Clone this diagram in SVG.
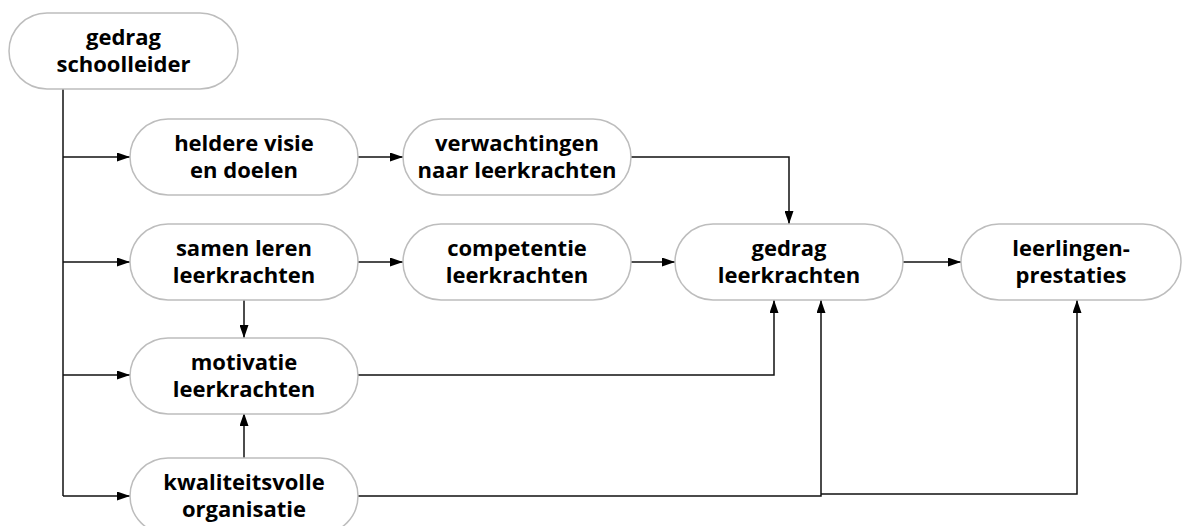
<svg xmlns="http://www.w3.org/2000/svg" width="1185" height="526" viewBox="0 0 1185 526">
<defs>
<marker id="ah" markerWidth="13" markerHeight="9" refX="13" refY="4.5" orient="auto" markerUnits="userSpaceOnUse">
<path d="M0,0 L13,4.5 L0,9 Z" fill="#000"/>
</marker>
<style>
.node rect{fill:#fff;stroke:#bdbdbd;stroke-width:1.5}
.node text{font-family:"Open Sans","Noto Sans","Liberation Sans",sans-serif;font-weight:bold;font-size:22px;fill:#000;text-anchor:middle}
.conn path{fill:none;stroke:#111;stroke-width:1.5}
</style>
</defs>
<rect width="1185" height="526" fill="#fff"/>
<g class="conn">
<path d="M63,89 V496"/>
<path d="M63,157 H130" marker-end="url(#ah)"/>
<path d="M63,262 H130" marker-end="url(#ah)"/>
<path d="M63,375 H130" marker-end="url(#ah)"/>
<path d="M63,496 H130" marker-end="url(#ah)"/>
<path d="M358,157 H403" marker-end="url(#ah)"/>
<path d="M631,157 H789 V224" marker-end="url(#ah)"/>
<path d="M358,262 H403" marker-end="url(#ah)"/>
<path d="M631,262 H675" marker-end="url(#ah)"/>
<path d="M903,262 H961" marker-end="url(#ah)"/>
<path d="M244,300 V338" marker-end="url(#ah)"/>
<path d="M244,458 V413" marker-end="url(#ah)"/>
<path d="M358,375 H774 V300" marker-end="url(#ah)"/>
<path d="M358,496 H821 V300" marker-end="url(#ah)"/>
<path d="M821,494 H1077 V300" marker-end="url(#ah)"/>
</g>
<g id="n-schoolleider" class="node"><rect x="9" y="13" width="229" height="76" rx="38"/><text x="123.5" y="45">gedrag</text><text x="123.5" y="72">schoolleider</text></g>
<g id="n-visie" class="node"><rect x="130" y="119" width="228" height="76" rx="38"/><text x="244" y="151">heldere visie</text><text x="244" y="178">en doelen</text></g>
<g id="n-verwachtingen" class="node"><rect x="403" y="119" width="228" height="76" rx="38"/><text x="517" y="151">verwachtingen</text><text x="517" y="178">naar leerkrachten</text></g>
<g id="n-samen" class="node"><rect x="130" y="224" width="228" height="76" rx="38"/><text x="244" y="256">samen leren</text><text x="244" y="283">leerkrachten</text></g>
<g id="n-competentie" class="node"><rect x="403" y="224" width="228" height="76" rx="38"/><text x="517" y="256">competentie</text><text x="517" y="283">leerkrachten</text></g>
<g id="n-gedrag" class="node"><rect x="675" y="224" width="228" height="76" rx="38"/><text x="789" y="256">gedrag</text><text x="789" y="283">leerkrachten</text></g>
<g id="n-prestaties" class="node"><rect x="961" y="224" width="220" height="76" rx="38"/><text x="1071" y="256">leerlingen-</text><text x="1071" y="283">prestaties</text></g>
<g id="n-motivatie" class="node"><rect x="130" y="338" width="228" height="76" rx="38"/><text x="244" y="370">motivatie</text><text x="244" y="397">leerkrachten</text></g>
<g id="n-organisatie" class="node"><rect x="130" y="458" width="228" height="76" rx="38"/><text x="244" y="490">kwaliteitsvolle</text><text x="244" y="517">organisatie</text></g>
</svg>
